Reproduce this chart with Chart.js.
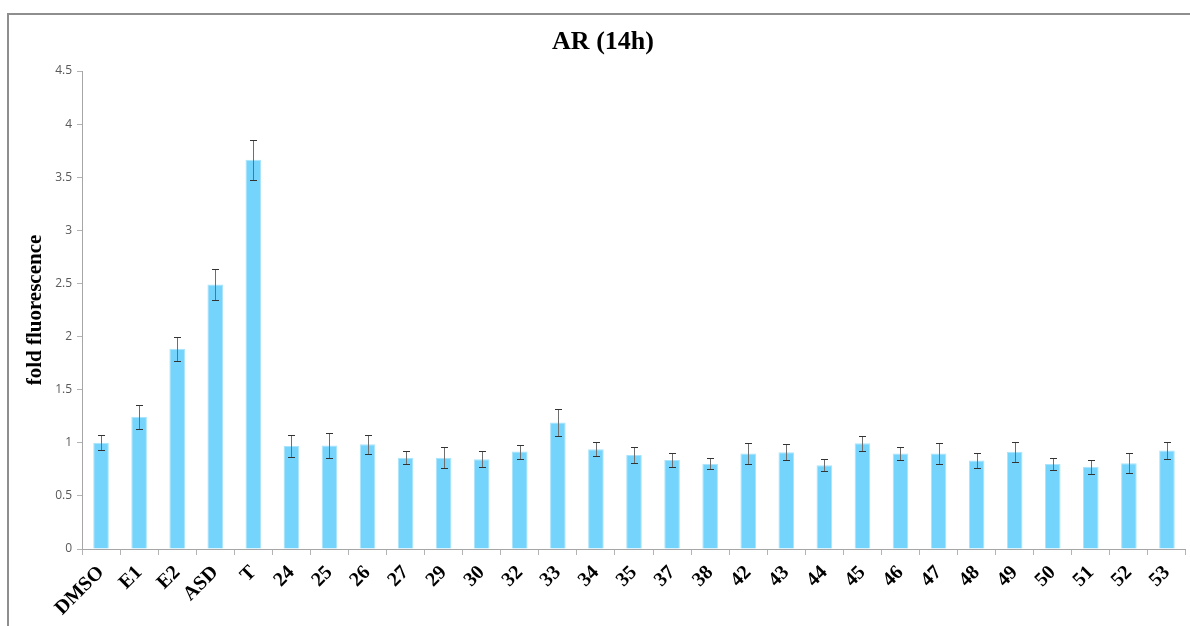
<!DOCTYPE html>
<html>
<head>
<meta charset="utf-8">
<script src="https://cdn.jsdelivr.net/npm/chart.js@4.4.1/dist/chart.umd.min.js"></script>
<style>
  html, body { margin: 0; padding: 0; background: #ffffff; }
  #wrap { position: relative; width: 1190px; height: 626px; overflow: hidden; background: #fff; }
  #frame { position: absolute; left: 7px; top: 13px; right: -10px; bottom: -10px;
           border-top: 2px solid #8e8e8e; border-left: 2px solid #8e8e8e; pointer-events: none; }
  canvas { position: absolute; left: 0; top: 0; }
</style>
</head>
<body>
<div id="wrap">
  <canvas id="c" width="1190" height="626"></canvas>
  <div id="frame"></div>
</div>
<script>
const categories = ['DMSO','E1','E2','ASD','T','24','25','26','27','29','30','32','33','34','35','37','38','42','43','44','45','46','47','48','49','50','51','52','53'];
const values = [1.00,1.245,1.885,2.49,3.665,0.97,0.975,0.985,0.86,0.86,0.845,0.917,1.19,0.94,0.885,0.838,0.803,0.898,0.912,0.788,0.995,0.898,0.898,0.832,0.915,0.80,0.775,0.807,0.928];
const errors = [0.07,0.115,0.115,0.15,0.19,0.105,0.12,0.09,0.06,0.1,0.077,0.066,0.128,0.067,0.078,0.068,0.052,0.1,0.073,0.057,0.07,0.058,0.1,0.068,0.095,0.057,0.067,0.094,0.083];
const yMin = 0, yMax = 4.5, yStep = 0.5;
const chartTitle = 'AR (14h)';
const yTitle = 'fold fluorescence';

const errorBars = {
  id: 'errorBars',
  afterDatasetsDraw(chart) {
    const ctx = chart.ctx;
    const meta = chart.getDatasetMeta(0);
    const ys = chart.scales.y;
    ctx.save();
    meta.data.forEach((bar, i) => {
      const x = Math.round(bar.x);
      const yt = Math.round(ys.getPixelForValue(values[i] + errors[i]));
      const yb = Math.round(ys.getPixelForValue(values[i] - errors[i]));
      ctx.lineWidth = 1;
      ctx.strokeStyle = '#6e6e6e';
      ctx.beginPath();
      ctx.moveTo(x + 0.5, yt);
      ctx.lineTo(x + 0.5, yb);
      ctx.stroke();
      ctx.strokeStyle = '#333333';
      ctx.beginPath();
      ctx.moveTo(x - 3, yt + 0.5);
      ctx.lineTo(x + 4, yt + 0.5);
      ctx.moveTo(x - 3, yb + 0.5);
      ctx.lineTo(x + 4, yb + 0.5);
      ctx.stroke();
    });
    ctx.restore();
  }
};

new Chart(document.getElementById('c'), {
  type: 'bar',
  data: {
    labels: categories,
    datasets: [{
      data: values,
      backgroundColor: '#74D4FB',
      borderColor: '#A9E4FC',
      borderWidth: 1,
      categoryPercentage: 1.0,
      barPercentage: 0.41
    }]
  },
  options: {
    responsive: false,
    animation: false,
    layout: { padding: { left: 20, right: 4, top: 0, bottom: 0 } },
    plugins: {
      legend: { display: false },
      tooltip: { enabled: false },
      title: {
        display: true,
        text: chartTitle,
        color: '#000000',
        font: { family: 'Liberation Serif', size: 26, weight: 'bold', lineHeight: 1.2 },
        padding: { top: 27, bottom: 12.8 }
      }
    },
    scales: {
      x: {
        grid: { display: true, drawOnChartArea: false, drawTicks: true, tickLength: 6, color: '#b3b3b3', offset: true },
        border: { display: true, color: '#a6a6a6', width: 1 },
        ticks: {
          autoSkip: false, maxRotation: 45, minRotation: 45, padding: 6,
          color: '#000000',
          font: { family: 'Liberation Serif', size: 20, weight: 'bold' }
        },
        afterFit(s) { s.height = 77; }
      },
      y: {
        min: yMin, max: yMax,
        grid: { display: true, drawOnChartArea: false, drawTicks: true, tickLength: 5, color: '#b3b3b3' },
        border: { display: true, color: '#a6a6a6', width: 1 },
        ticks: {
          stepSize: yStep, padding: 5, color: '#595959',
          font: { family: 'Open Sans', size: 12 },
          callback: (v) => String(Number(v.toFixed(2)))
        },
        title: {
          display: true, text: yTitle, color: '#000000',
          font: { family: 'Liberation Serif', size: 21, weight: 'bold', lineHeight: 1.2 },
          padding: { top: 3, bottom: 0 }
        },
        afterFit(s) { s.width = 62; }
      }
    }
  },
  plugins: [errorBars]
});
</script>
</body>
</html>
